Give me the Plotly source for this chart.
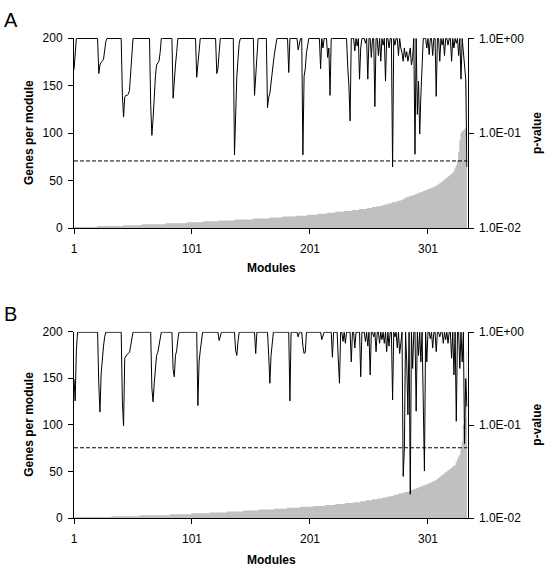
import numpy as np
import plotly.graph_objects as go

# ---------------- data ----------------
N_MODULES = 334
modules = list(range(1, N_MODULES + 1))
x_tick_values = [1, 101, 201, 301]
left_tick_values = [0, 50, 100, 150, 200]
right_tick_values = [0.01, 0.1, 1.0]
right_tick_labels = ["1.0E-02", "1.0E-01", "1.0E+00"]

# genes per module (sorted), stored as size / number-of-modules runs
A_size_values = list(range(1, 31)) + [31, 32, 33, 34, 35, 36, 37, 38, 39, 40, 41, 42, 43,
                                      44, 45, 46, 47, 48, 49, 50, 51, 52, 53, 54, 55, 56, 57,
                                      58, 60, 63, 66, 71, 80, 92, 100, 102, 103, 104, 105, 155]
A_size_counts = [20, 22, 16, 20, 18, 14, 13, 14, 15, 14, 11, 11, 10, 9, 8, 7, 7, 7, 6, 7,
                 4, 4, 4, 3, 3, 3, 3, 3, 2, 2] + [1, 2, 2, 3, 2, 2, 2, 2, 2, 2, 2, 2, 2,
                 1, 2, 1, 1, 1, 1, 1, 1, 1, 1, 1, 1, 1, 1,
                 1, 1, 1, 1, 1, 1, 1, 1, 1, 1, 1, 1, 1]

B_size_values = list(range(1, 31)) + [31, 32, 33, 34, 35, 36, 37, 38, 39, 40, 41, 42, 43,
                                      44, 45, 46, 47, 48, 49, 50, 51, 52, 53, 54, 55, 56, 57,
                                      60, 63, 66, 68, 74, 82, 100, 104, 107, 180]
B_size_counts = [32, 24, 26, 18, 15, 15, 14, 13, 13, 11, 11, 11, 10, 9, 8, 7, 6, 5, 5, 5,
                 4, 4, 3, 3, 3, 3, 3, 3, 2, 2] + [2, 2, 2, 2, 2, 2, 2, 2, 1, 2, 1, 1, 1,
                 1, 1, 1, 1, 1, 1, 1, 1, 1, 1, 1, 1, 1, 1,
                 1, 1, 1, 1, 1, 1, 1, 1, 1, 1]

# p-values: modules whose p-value is below 1.0 (all others are 1.0)
A_dip_modules = [1, 2, 22, 23, 24, 25, 26, 27, 28, 42, 43, 44, 45, 46, 47, 48, 49, 50,
                 66, 67, 68, 69, 70, 71, 72, 73, 74, 85, 86, 87, 88, 105, 106, 107,
                 122, 123, 124, 137, 138, 139, 140, 141, 154, 155, 156,
                 165, 166, 167, 168, 169, 170, 171, 172, 183, 191, 192,
                 195, 196, 197, 198, 199, 210, 212, 216, 217, 218, 233, 234, 235,
                 239, 241, 243, 244, 248, 250, 253, 256, 259, 261, 263, 265, 268,
                 271, 273, 276, 278, 279, 280, 281, 282, 283, 284, 285, 286, 287, 288,
                 290, 292, 293, 294, 295, 296, 300, 302, 305, 308, 311, 313, 315,
                 318, 321, 323, 325, 327, 329, 331, 332, 333, 334]
A_dip_pvalues = [0.468, 0.708, 0.427, 0.525, 0.562, 0.575, 0.603, 0.794, 0.933,
                 0.251, 0.148, 0.240, 0.251, 0.251, 0.257, 0.282, 0.447, 0.708,
                 0.200, 0.095, 0.141, 0.282, 0.398, 0.525, 0.562, 0.575, 0.708,
                 0.234, 0.398, 0.525, 0.708, 0.389, 0.562, 0.794,
                 0.427, 0.479, 0.708, 0.059, 0.200, 0.398, 0.603, 0.891,
                 0.251, 0.447, 0.794,
                 0.186, 0.240, 0.263, 0.355, 0.447, 0.562, 0.708, 0.832, 0.437, 0.759, 0.891,
                 0.059, 0.398, 0.479, 0.708, 0.891, 0.479, 0.794, 0.631, 0.794, 0.251,
                 0.501, 0.316, 0.135,
                 0.741, 0.832, 0.372, 0.794, 0.891, 0.372, 0.631, 0.191, 0.661, 0.575,
                 0.851, 0.355, 0.794,
                 0.044, 0.851, 0.661, 0.794, 0.708, 0.575, 0.794, 0.631, 0.724, 0.575,
                 0.676, 0.794, 0.525, 0.631,
                 0.060, 0.158, 0.355, 0.098, 0.251, 0.447, 0.794, 0.676, 0.661, 0.245,
                 0.575, 0.851, 0.661,
                 0.851, 0.575, 0.794, 0.891, 0.661, 0.372, 0.661, 0.501, 0.372, 0.044]

B_dip_modules = [1, 2, 3, 22, 23, 24, 25, 26, 27, 42, 43, 44, 45, 46, 47, 48, 49, 50,
                 67, 68, 69, 70, 71, 72, 73, 74, 85, 86, 87, 88, 89, 106, 107, 108, 109,
                 124, 125, 138, 139, 140, 155, 166, 167, 168, 169, 184, 191,
                 195, 196, 197, 211, 212, 220, 225, 226, 229, 231, 236, 239, 244,
                 248, 250, 252, 255, 257, 260, 262, 264, 266, 268, 271, 273, 275, 277,
                 278, 280, 281, 283, 284, 286, 288, 291, 293, 295, 297, 298, 300,
                 303, 305, 308, 311, 314, 316, 318, 321, 323, 325, 328, 330, 332, 333, 334]
B_dip_pvalues = [0.316, 0.182, 0.631, 0.282, 0.138, 0.355, 0.562, 0.708, 0.891,
                 0.178, 0.098, 0.525, 0.562, 0.575, 0.589, 0.603, 0.708, 0.891,
                 0.251, 0.178, 0.282, 0.447, 0.562, 0.603, 0.708, 0.891,
                 0.398, 0.331, 0.562, 0.631, 0.832, 0.162, 0.479, 0.631, 0.794,
                 0.813, 0.891, 0.631, 0.562, 0.794, 0.589, 0.562, 0.282, 0.562, 0.794,
                 0.182, 0.891,
                 0.708, 0.589, 0.603, 0.832, 0.891, 0.537, 0.501, 0.282, 0.794, 0.759,
                 0.479, 0.676, 0.331,
                 0.794, 0.708, 0.347, 0.891, 0.617, 0.759, 0.832, 0.759, 0.617, 0.708,
                 0.186, 0.891, 0.676, 0.589,
                 0.759, 0.028, 0.056, 0.479, 0.129, 0.018, 0.407, 0.141, 0.562, 0.479,
                 0.251, 0.032, 0.479,
                 0.851, 0.676, 0.617, 0.891, 0.759, 0.832, 0.759, 0.525, 0.347, 0.110,
                 0.407, 0.479, 0.063, 0.316, 0.158]

A_threshold = 0.051
B_threshold = 0.057

# ---------------- build series ----------------
genes_A = np.repeat(A_size_values, A_size_counts)
genes_B = np.repeat(B_size_values, B_size_counts)
p_A = np.ones(N_MODULES)
p_A[np.array(A_dip_modules) - 1] = A_dip_pvalues
p_B = np.ones(N_MODULES)
p_B[np.array(B_dip_modules) - 1] = B_dip_pvalues

W, H = 553, 572
FONT = "Liberation Sans, Arial, sans-serif"
GRAY = "#C0C0C0"

fig = go.Figure()

panels = [
    ("x", "y", "y2", genes_A, p_A, A_threshold),
    ("x2", "y3", "y4", genes_B, p_B, B_threshold),
]
for xa, yl, yr, genes, pv, thr in panels:
    fig.add_trace(go.Scatter(x=modules, y=genes, xaxis=xa, yaxis=yl, mode="lines",
                             line=dict(width=0, color=GRAY, shape="hvh"),
                             fill="tozeroy", fillcolor=GRAY, hoverinfo="skip",
                             showlegend=False))
    fig.add_trace(go.Scatter(x=[1, N_MODULES + 0.5], y=[thr, thr], xaxis=xa, yaxis=yr,
                             mode="lines", line=dict(color="black", width=1, dash="4px,2px"),
                             showlegend=False))
    fig.add_trace(go.Scatter(x=modules, y=pv, xaxis=xa, yaxis=yr, mode="lines",
                             line=dict(color="black", width=1), showlegend=False))

x_dom = [74 / W, 467.5 / W]
yA_dom = [1 - 228 / H, 1 - 38 / H]
yB_dom = [1 - 518 / H, 1 - 331.7 / H]

tickfont = dict(family=FONT, size=12, color="black")
common_x = dict(domain=x_dom, range=[1, N_MODULES + 0.5], tickvals=x_tick_values,
                ticks="outside", ticklen=5, tickcolor="black", showline=True,
                linecolor="black", linewidth=1, showgrid=False, zeroline=False,
                tickfont=tickfont, ticklabelstandoff=5, automargin=False)
common_yl = dict(range=[0, 200], tickvals=left_tick_values, ticks="outside", ticklen=5,
                 tickcolor="black", showline=True, linecolor="black", linewidth=1,
                 showgrid=False, zeroline=False, tickfont=tickfont, ticklabelstandoff=3,
                 automargin=False)
common_yr = dict(type="log", range=[-2, 0.005], tickvals=right_tick_values,
                 ticktext=right_tick_labels, side="right", ticks="outside", ticklen=5,
                 tickcolor="black", showline=True, linecolor="black", linewidth=1,
                 showgrid=False, zeroline=False, tickfont=tickfont, ticklabelstandoff=3,
                 automargin=False)

fig.update_layout(
    width=W, height=H, margin=dict(l=0, r=0, t=0, b=0, pad=0, autoexpand=False),
    paper_bgcolor="white", plot_bgcolor="white", showlegend=False,
    xaxis=dict(anchor="y", **common_x),
    yaxis=dict(anchor="x", domain=yA_dom, **common_yl),
    yaxis2=dict(anchor="x", overlaying="y", **common_yr),
    xaxis2=dict(anchor="y3", **common_x),
    yaxis3=dict(anchor="x2", domain=yB_dom, **common_yl),
    yaxis4=dict(anchor="x2", overlaying="y3", **common_yr),
)

bold = dict(family=FONT, size=12, color="black")
ann = []
for label, top, bottom, title_y in [("A", 38, 228, 268), ("B", 331.7, 518, 560)]:
    mid = (top + bottom) / 2
    ann.append(dict(text="<b>Genes per module</b>", x=29 / W, y=1 - mid / H,
                    xref="paper", yref="paper", textangle=-90, showarrow=False,
                    font=bold, xanchor="center", yanchor="middle"))
    ann.append(dict(text="<b>p-value</b>", x=537 / W, y=1 - mid / H,
                    xref="paper", yref="paper", textangle=-90, showarrow=False,
                    font=bold, xanchor="center", yanchor="middle"))
    ann.append(dict(text="<b>Modules</b>", x=271 / W, y=1 - title_y / H,
                    xref="paper", yref="paper", showarrow=False, font=bold,
                    xanchor="center", yanchor="middle"))
    ann.append(dict(text=label, x=2 / W, y=1 - (top - 31) / H, xref="paper",
                    yref="paper", showarrow=False, xanchor="left", yanchor="top",
                    font=dict(family=FONT, size=20, color="black")))
fig.update_layout(annotations=ann)

fig.write_html("out.html", config={"displayModeBar": False},
               post_script="document.body.style.margin='0';document.body.style.overflow='hidden';")
